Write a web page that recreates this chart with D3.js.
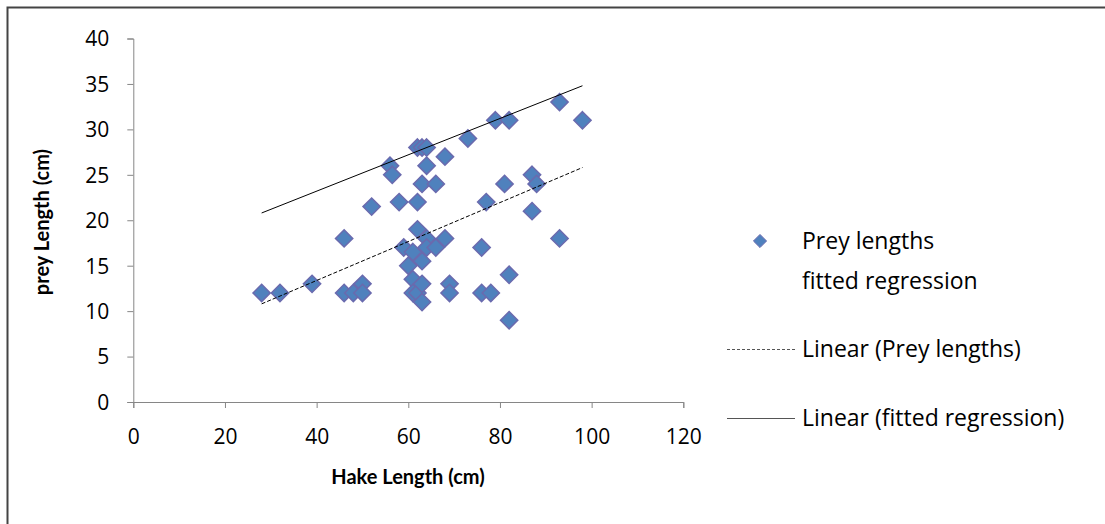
<!DOCTYPE html>
<html>
<head>
<meta charset="utf-8">
<script src="https://cdn.jsdelivr.net/npm/d3@7"></script>
<style>
  body { margin: 0; background: #fff; }
  svg { font-family: "Open Sans", Lato, sans-serif; }
</style>
</head>
<body>
<svg id="chart" width="1105" height="524"></svg>
<script>
// hake length (cm) vs prey length (cm)
const hakeLength = [28, 32, 39, 46, 48, 50, 50, 46, 52, 56, 56.5, 58, 59, 60, 61, 61, 61, 62, 63, 63,
  62, 64, 63, 64, 66, 68, 62, 63, 64, 66, 62, 63, 64, 68, 73, 79, 82, 93, 98, 69,
  69, 76, 78, 76, 77, 81, 87, 88, 87, 93, 82, 82];
const preyLength = [12, 12, 13, 12, 12, 13, 12, 18, 21.5, 26, 25, 22, 17, 15, 16.5, 13.5, 12, 12, 11, 13,
  19, 18, 15.5, 17, 17, 18, 22, 24, 26, 24, 28, 28, 28, 27, 29, 31, 31, 33, 31, 13,
  12, 12, 12, 17, 22, 24, 25, 24, 21, 18, 14, 9];

// trendline ends
const preyTrendX = [28, 98];
const preyTrendY = [10.8, 25.8];
// "fitted regression" series (no markers, only its trendline shows)
const fittedX = [28, 98];
const fittedY = [20.8, 34.8];

const xTicks = [0, 20, 40, 60, 80, 100, 120];
const yTicks = [0, 5, 10, 15, 20, 25, 30, 35, 40];

const svg = d3.select("#chart");

// outer border of the chart area
svg.append("rect")
  .attr("x", 7.5).attr("y", 7.5)
  .attr("width", 1200).attr("height", 600)
  .attr("fill", "none")
  .attr("stroke", "#444").attr("stroke-width", 2);

const x = d3.scaleLinear().domain([0, 120]).range([133.3, 683.3]);
const y = d3.scaleLinear().domain([0, 40]).range([402, 38.5]);

// axes
const xAxis = svg.append("g")
  .attr("transform", `translate(0,${y(0)})`)
  .call(d3.axisBottom(x).tickValues(xTicks).tickSize(6).tickPadding(21));
const yAxis = svg.append("g")
  .attr("transform", `translate(${x(0)},0)`)
  .call(d3.axisLeft(y).tickValues(yTicks).tickSize(6).tickPadding(18));

[xAxis, yAxis].forEach(g => {
  g.select(".domain").attr("stroke", "#868686");
  g.selectAll(".tick line").attr("stroke", "#868686");
  g.selectAll(".tick text")
    .attr("font-family", "'Open Sans', sans-serif")
    .attr("font-size", 21)
    .attr("fill", "#000");
});
xAxis.selectAll(".tick text").attr("dy", "0.71em");
yAxis.selectAll(".tick text").attr("dy", "0.35em");

// axis titles
svg.append("text")
  .attr("x", 408).attr("y", 484)
  .attr("text-anchor", "middle")
  .attr("font-family", "Lato, sans-serif")
  .attr("font-weight", "bold").attr("font-size", 20)
  .text("Hake Length (cm)");
svg.append("text")
  .attr("transform", "translate(49,222) rotate(-90)")
  .attr("text-anchor", "middle")
  .attr("font-family", "Lato, sans-serif")
  .attr("font-weight", "bold").attr("font-size", 20)
  .text("prey Length (cm)");

const diamond = d3.symbol().type(d3.symbolDiamond2);

// points
const pts = hakeLength.map((h, i) => ({ h, p: preyLength[i] }));
svg.append("g").selectAll("path")
  .data(pts)
  .join("path")
  .attr("d", diamond.size(190)())
  .attr("transform", d => `translate(${x(d.h)},${y(d.p)})`)
  .attr("fill", "#4F81BD")
  .attr("stroke", "#6A6AAE")
  .attr("stroke-width", 1.5);

// trendlines
svg.append("line")
  .attr("x1", x(preyTrendX[0])).attr("y1", y(preyTrendY[0]))
  .attr("x2", x(preyTrendX[1])).attr("y2", y(preyTrendY[1]))
  .attr("stroke", "#000").attr("stroke-width", 1)
  .attr("stroke-dasharray", "4,2");

svg.append("line")
  .attr("x1", x(fittedX[0])).attr("y1", y(fittedY[0]))
  .attr("x2", x(fittedX[1])).attr("y2", y(fittedY[1]))
  .attr("stroke", "#000").attr("stroke-width", 1);

// legend
const legend = svg.append("g").attr("font-size", 23);
legend.append("path")
  .attr("d", diamond.size(110)())
  .attr("transform", "translate(760,241)")
  .attr("fill", "#4F81BD").attr("stroke", "#6A6AAE").attr("stroke-width", 1);
legend.append("line")
  .attr("x1", 727).attr("x2", 795).attr("y1", 349.5).attr("y2", 349.5)
  .attr("stroke", "#555").attr("stroke-dasharray", "3,2");
legend.append("line")
  .attr("x1", 727).attr("x2", 795).attr("y1", 418.5).attr("y2", 418.5)
  .attr("stroke", "#555");
const legendLabels = ["Prey lengths", "fitted regression", "Linear (Prey lengths)", "Linear (fitted regression)"];
const legendY = [241, 281, 349, 418];
legend.selectAll("text")
  .data(legendLabels)
  .join("text")
  .attr("x", 802)
  .attr("y", (d, i) => legendY[i])
  .attr("dy", "0.35em")
  .text(d => d);
</script>
</body>
</html>
